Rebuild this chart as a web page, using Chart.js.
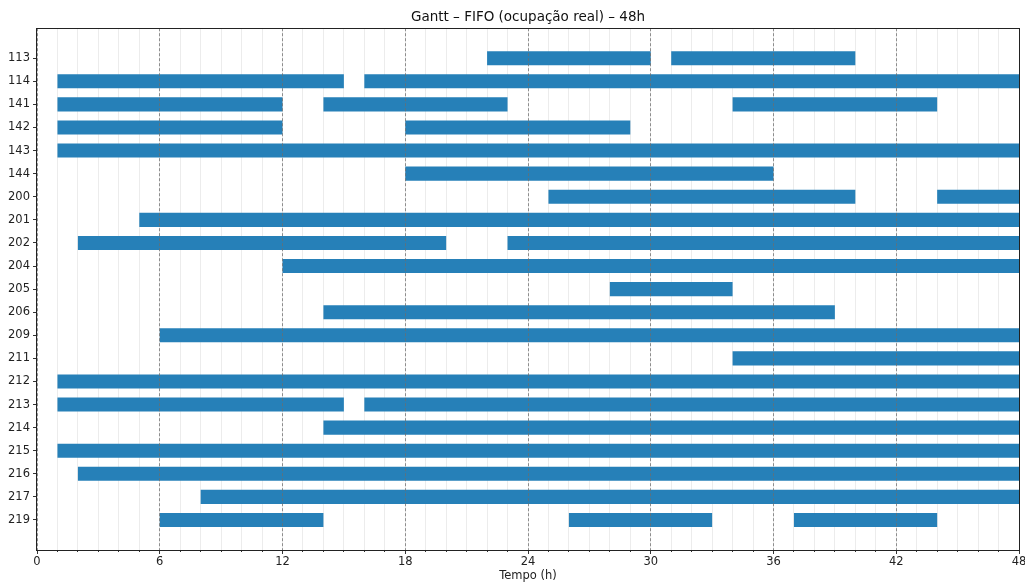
<!DOCTYPE html>
<html>
<head>
<meta charset="utf-8">
<script src="https://cdn.jsdelivr.net/npm/chart.js@4/dist/chart.umd.min.js"></script>
<style>
  html, body { margin: 0; padding: 0; background: #fff; }
  #wrap { width: 1025px; height: 584px; }
</style>
</head>
<body>
<div id="wrap"><canvas id="gantt" width="1025" height="584"></canvas></div>
<script>
const ROOMS = ["113", "114", "141", "142", "143", "144", "200", "201", "202", "204", "205",
  "206", "209", "211", "212", "213", "214", "215", "216", "217", "219"];
// first, second and third occupation interval per room, in hours
const SEG_1 = [[22, 30], [1, 15], [1, 12], [1, 12], [1, 48], [18, 36], [25, 40], [5, 48], [2, 20], [12, 48], [28, 34],
  [14, 39], [6, 48], [34, 48], [1, 48], [1, 15], [14, 48], [1, 48], [2, 48], [8, 48], [6, 14]];
const SEG_2 = [[31, 40], [16, 48], [14, 23], [18, 29], null, null, [44, 48], null, [23, 48], null, null,
  null, null, null, null, [16, 48], null, null, null, null, [26, 33]];
const SEG_3 = [null, null, [34, 44], null, null, null, null, null, null, null, null,
  null, null, null, null, null, null, null, null, null, [37, 44]];
const X_MAX = 48;
const TITLE = "Gantt – FIFO (ocupação real) – 48h";

const FONT = "'DejaVu Sans', sans-serif";
const BAR_COLOR = "#2680b8";

function toPoints(seg) {
  const pts = [];
  seg.forEach((iv, i) => {
    if (iv) pts.push({ x: iv, y: i });
  });
  return pts;
}

const frame = {
  id: "frame",
  afterDraw(chart) {
    const { ctx, chartArea: a } = chart;
    ctx.save();
    ctx.strokeStyle = "#222";
    ctx.lineWidth = 1;
    ctx.strokeRect(Math.round(a.left) - 0.5, Math.round(a.top) + 0.5,
      Math.round(a.right - a.left) + 1, Math.round(a.bottom - a.top));
    ctx.restore();
  },
};

new Chart(document.getElementById("gantt"), {
  type: "bar",
  data: {
    datasets: [SEG_1, SEG_2, SEG_3].map((seg, k) => ({
      label: "seg" + (k + 1),
      data: toPoints(seg),
      backgroundColor: BAR_COLOR,
      borderWidth: 0,
      borderSkipped: false,
      grouped: false,
      barPercentage: 0.61,
      categoryPercentage: 1,
    })),
  },
  plugins: [frame],
  options: {
    indexAxis: "y",
    responsive: false,
    animation: false,
    layout: { padding: { left: 0, right: 6, top: 0, bottom: 0 } },
    scales: {
      xMinor: {
        type: "linear",
        position: "bottom",
        axis: "x",
        weight: 0,
        min: 0,
        max: X_MAX,
        ticks: { display: false, stepSize: 1 },
        grid: { color: "#ececec", lineWidth: 1, tickLength: 2, tickColor: "#333" },
        border: { display: false },
        afterFit: (s) => { s.height = 0; s.paddingLeft = 0; s.paddingRight = 0; },
      },
      x: {
        type: "linear",
        position: "bottom",
        weight: 1,
        min: 0,
        max: X_MAX,
        ticks: { stepSize: 6, color: "#222", font: { family: FONT, size: 11.5 }, padding: 1, maxRotation: 0 },
        grid: { color: "rgba(110,110,110,0.75)", lineWidth: 1, z: 1, tickLength: 4, tickColor: "#333" },
        border: { display: false, dash: [3, 2] },
        title: {
          display: true,
          text: "Tempo (h)",
          color: "#222",
          font: { family: FONT, size: 11.5 },
          padding: { top: 0, bottom: 1 },
        },
        afterFit: (s) => { s.height = 34; s.paddingLeft = 0; s.paddingRight = 0; },
      },
      y: {
        type: "linear",
        reverse: true,
        offset: false,
        bounds: "data",
        min: -1.3,
        max: ROOMS.length - 1 + 1.3,
        afterBuildTicks: (s) => {
          s.ticks = ROOMS.map((_, i) => ({ value: i }));
        },
        ticks: {
          autoSkip: false,
          color: "#222",
          font: { family: FONT, size: 11.5 },
          padding: 3,
          callback: (v) => ROOMS[v] ?? "",
        },
        grid: { offset: false, drawOnChartArea: false, tickLength: 4, tickColor: "#333" },
        border: { display: false },
        afterFit: (s) => { s.width = 37; },
      },
    },
    plugins: {
      legend: { display: false },
      tooltip: { enabled: false },
      title: {
        display: true,
        text: TITLE,
        fullSize: false,
        color: "#111",
        font: { family: FONT, size: 13.5, weight: "normal" },
        padding: { top: 9, bottom: 3 },
      },
    },
  },
});
</script>
</body>
</html>
